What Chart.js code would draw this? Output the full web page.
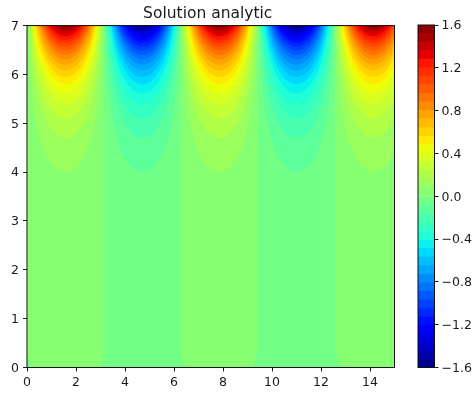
<!DOCTYPE html>
<html>
<head>
<meta charset="utf-8">
<title>Solution analytic</title>
<script src="https://cdn.jsdelivr.net/npm/chart.js@4"></script>
<style>
body { margin: 0; background: #fff; }
canvas { position: absolute; left: 0; top: 0; }
</style>
</head>
<body>
<canvas id="fieldChart" width="476" height="398"></canvas>
<canvas id="barChart" width="476" height="398"></canvas>
<script>
// contour step of the colour bar, bands run from -1.6 to 1.6
var levelStep = 0.08;
var bandCount = 40;

// x of the middle of each lobe, sign says red or blue
var lobeCenters = [1.57, 4.71, 7.85, 11.0, 14.14];
var lobeSigns = [1, -1, 1, -1, 1];
var lobeEdges = [0, 3.14, 6.28, 9.42, 12.57, 15];

// height of each contour on the lobe's middle line: 0.08, 0.16 ... 1.52
var crestHeights = [4.00, 4.70, 5.10, 5.39, 5.61, 5.80, 5.95, 6.08, 6.20, 6.31,
    6.40, 6.49, 6.57, 6.65, 6.71, 6.78, 6.84, 6.90, 6.95];

// how far a contour climbs when moving sideways from the lobe's middle
var sideOffsets = [0, 0.1, 0.2, 0.3, 0.4, 0.5, 0.6, 0.7, 0.8, 0.9, 1.0, 1.1,
    1.2, 1.3, 1.4, 1.45, 1.5, 1.53, 1.55, 1.56, 1.5708];
var sideClimb = [0, 0.005, 0.02, 0.046, 0.082, 0.131, 0.192, 0.268, 0.361, 0.476, 0.616, 0.79,
    1.015, 1.319, 1.772, 2.116, 2.649, 3.199, 3.873, 4.528, 8];

// small slanted pieces along the bottom edge, x and y of their two ends
var bottomX = [[0, 0.2], [3.05, 3.14], [6.28, 6.42], [9.24, 9.42], [12.57, 12.8]];
var bottomY = [[0.25, 0], [0, 0.35], [0.35, 0], [0, 0.4], [0.35, 0]];

var xTicks = [0, 2, 4, 6, 8, 10, 12, 14];
var yTicks = [0, 1, 2, 3, 4, 5, 6, 7];
var barTicks = [-1.6, -1.2, -0.8, -0.4, 0, 0.4, 0.8, 1.2, 1.6];

var tickFont = { family: 'DejaVu Sans', size: 12.5 };
var inkColor = '#1a1a1a';

function ramp(t, points) {
    for (var i = 1; i < points.length; i++) {
        if (t <= points[i][0]) {
            var a = points[i - 1], b = points[i];
            return a[1] + (b[1] - a[1]) * (t - a[0]) / (b[0] - a[0]);
        }
    }
    return points[points.length - 1][1];
}

// matplotlib jet
function jet(t) {
    var r = ramp(t, [[0, 0], [0.35, 0], [0.66, 1], [0.89, 1], [1, 0.5]]);
    var g = ramp(t, [[0, 0], [0.125, 0], [0.375, 1], [0.64, 1], [0.91, 0], [1, 0]]);
    var b = ramp(t, [[0, 0.5], [0.11, 1], [0.34, 1], [0.65, 0], [1, 0]]);
    return 'rgb(' + Math.round(r * 255) + ',' + Math.round(g * 255) + ',' + Math.round(b * 255) + ')';
}

// band 0 is the lowest one, -1.6 to -1.52
function bandColor(band) {
    return jet((band + 0.5) / bandCount);
}

function fillSet(points, color, target) {
    return {
        type: 'line',
        data: points,
        backgroundColor: color,
        borderWidth: 0,
        pointRadius: 0,
        tension: 0,
        fill: target
    };
}

var fieldSets = [];
var firstPositive = bandCount / 2;
var firstNegative = bandCount / 2 - 1;

// whole field in the lowest positive band, blue lobes get their plain band on top
fieldSets.push(fillSet([{ x: 0, y: 0 }, { x: 15, y: 0 }], bandColor(firstPositive), 'end'));
lobeCenters.forEach(function(center, i) {
    if (lobeSigns[i] < 0) {
        fieldSets.push(fillSet([{ x: lobeEdges[i], y: 0 }, { x: lobeEdges[i + 1], y: 0 }], bandColor(firstNegative), 'end'));
    }
});

bottomX.forEach(function(xs, i) {
    var points = [{ x: xs[0], y: bottomY[i][0] }, { x: xs[1], y: bottomY[i][1] }];
    fieldSets.push(fillSet(points, bandColor(firstNegative), 'start'));
});

crestHeights.forEach(function(crest, k) {
    lobeCenters.forEach(function(center, i) {
        var points = [];
        for (var s = sideOffsets.length - 1; s > 0; s--) {
            points.push({ x: center - sideOffsets[s], y: crest + sideClimb[s] });
        }
        for (s = 0; s < sideOffsets.length; s++) {
            points.push({ x: center + sideOffsets[s], y: crest + sideClimb[s] });
        }
        var band = lobeSigns[i] > 0 ? firstPositive + k + 1 : firstNegative - k - 1;
        fieldSets.push(fillSet(points, bandColor(band), 'end'));
    });
});

// first dataset is drawn last, so paint order is given explicitly
fieldSets.forEach(function(set, i) {
    set.order = fieldSets.length - i;
});

var frame = {
    id: 'frame',
    afterDraw: function(chart) {
        var a = chart.chartArea, ctx = chart.ctx;
        ctx.save();
        ctx.strokeStyle = '#111';
        ctx.lineWidth = 1;
        ctx.strokeRect(a.left, a.top, a.right - a.left, a.bottom - a.top);
        ctx.restore();
    }
};

// title sits a little left of the middle of the axes
var titleShift = {
    id: 'titleShift',
    afterLayout: function(chart) {
        chart.titleBlock.left -= 6;
    }
};

new Chart(document.getElementById('fieldChart'), {
    type: 'line',
    data: { datasets: fieldSets },
    plugins: [frame, titleShift],
    options: {
        responsive: false,
        animation: false,
        layout: { padding: { right: 81.5 } },
        plugins: {
            legend: { display: false },
            tooltip: { enabled: false },
            title: {
                display: true,
                text: 'Solution analytic',
                fullSize: false,
                color: inkColor,
                font: { family: 'DejaVu Sans', size: 15.5, weight: 'normal' },
                padding: { top: 5, bottom: 2 }
            }
        },
        scales: {
            x: {
                type: 'linear',
                min: 0,
                max: 15,
                afterBuildTicks: function(scale) {
                    scale.ticks = xTicks.map(function(v) { return { value: v }; });
                },
                afterFit: function(scale) { scale.height = 30.5; },
                grid: { drawOnChartArea: false, tickLength: 4, color: inkColor },
                border: { color: '#222' },
                ticks: { font: tickFont, color: inkColor, maxRotation: 0, padding: 4, autoSkip: false }
            },
            y: {
                type: 'linear',
                min: 0,
                max: 7,
                afterBuildTicks: function(scale) {
                    scale.ticks = yTicks.map(function(v) { return { value: v }; });
                },
                afterFit: function(scale) { scale.width = 27; },
                grid: { drawOnChartArea: false, tickLength: 4, color: inkColor },
                border: { color: '#222' },
                ticks: { font: tickFont, color: inkColor, padding: 4, labelOffset: 1, autoSkip: false }
            }
        }
    }
});

// colour bar, one stacked bar per band; stacks grow away from zero
var barSets = [];
for (var band = bandCount / 2 - 1; band >= 0; band--) {
    barSets.push({
        data: [-levelStep],
        backgroundColor: bandColor(band),
        borderWidth: 0,
        inflateAmount: 0.6,
        barPercentage: 1,
        categoryPercentage: 1
    });
}
for (band = bandCount / 2; band < bandCount; band++) {
    barSets.push({
        data: [levelStep],
        backgroundColor: bandColor(band),
        borderWidth: 0,
        inflateAmount: 0.6,
        barPercentage: 1,
        categoryPercentage: 1
    });
}

new Chart(document.getElementById('barChart'), {
    type: 'bar',
    data: { labels: [''], datasets: barSets },
    plugins: [frame],
    options: {
        responsive: false,
        animation: false,
        layout: { padding: { left: 418, top: 25, bottom: 30.5 } },
        plugins: { legend: { display: false }, tooltip: { enabled: false } },
        scales: {
            x: { stacked: true, display: false },
            y: {
                stacked: true,
                position: 'right',
                min: -1.6,
                max: 1.6,
                afterBuildTicks: function(scale) {
                    scale.ticks = barTicks.map(function(v) { return { value: v }; });
                },
                afterFit: function(scale) { scale.width = 41.5; },
                grid: { drawOnChartArea: false, tickLength: 4, color: inkColor },
                border: { color: '#222' },
                ticks: {
                    font: tickFont,
                    color: inkColor,
                    padding: 3,
                    labelOffset: 1,
                    autoSkip: false,
                    callback: function(v) {
                        return (v < 0 ? '\u2212' : '') + Math.abs(v).toFixed(1);
                    }
                }
            }
        }
    }
});
</script>
</body>
</html>
